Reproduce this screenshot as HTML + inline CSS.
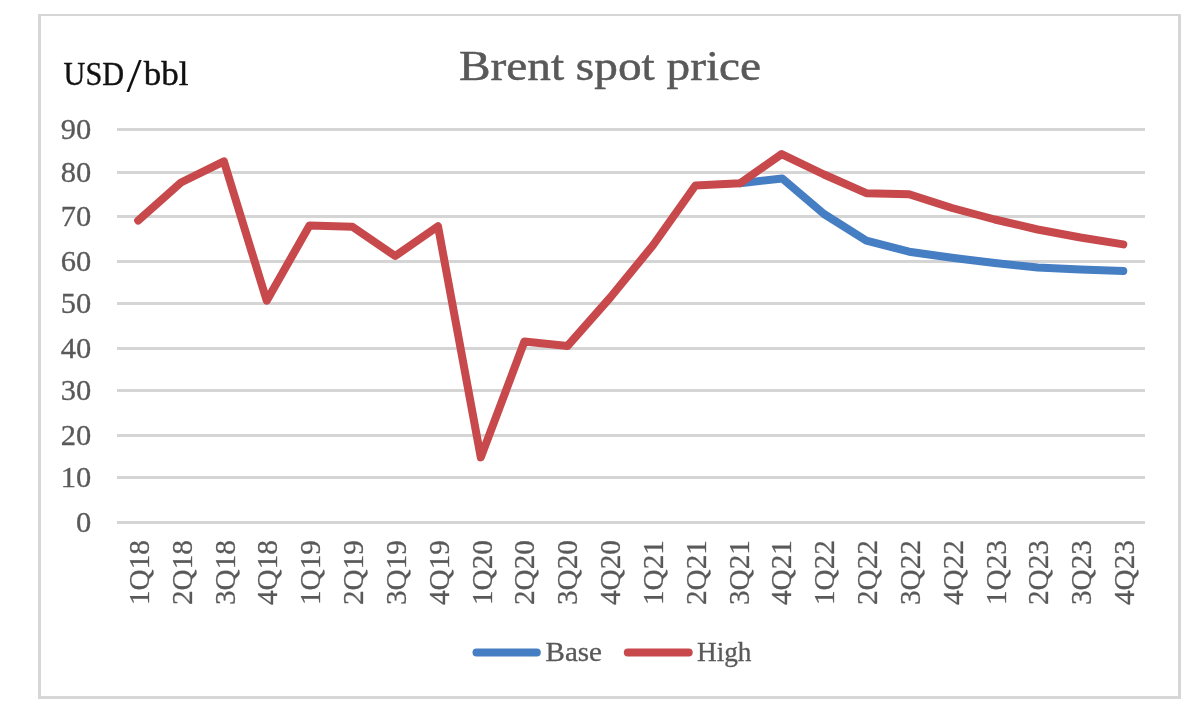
<!DOCTYPE html>
<html lang="en"><head><meta charset="utf-8"><title>Brent spot price</title>
<style>html,body{margin:0;padding:0;background:#fff;}body{width:1200px;height:720px;overflow:hidden;}svg{display:block;}text{font-family:"Liberation Serif",serif;}</style></head><body>
<svg width="1200" height="720" viewBox="0 0 1200 720">
<rect x="0" y="0" width="1200" height="720" fill="#ffffff"/>
<g fill="#d6d6d6" shape-rendering="crispEdges"><rect x="38" y="14" width="1143" height="2"/><rect x="38" y="696" width="1143" height="3"/><rect x="38" y="14" width="3" height="685"/><rect x="1178" y="14" width="3" height="685"/></g>
<g fill="#d5d5d5" shape-rendering="crispEdges">
<rect x="117" y="521" width="1028" height="3"/>
<rect x="117" y="476" width="1028" height="3"/>
<rect x="117" y="434" width="1028" height="3"/>
<rect x="117" y="389" width="1028" height="3"/>
<rect x="117" y="347" width="1028" height="3"/>
<rect x="117" y="302" width="1028" height="3"/>
<rect x="117" y="260" width="1028" height="3"/>
<rect x="117" y="215" width="1028" height="3"/>
<rect x="117" y="171" width="1028" height="3"/>
<rect x="117" y="128" width="1028" height="3"/>
</g>
<text transform="translate(91.3,531.90) scale(1.07,1)" font-size="28.5" fill="#595959" stroke="#595959" stroke-width="0.3" text-anchor="end">0</text>
<text transform="translate(91.3,486.90) scale(1.07,1)" font-size="28.5" fill="#595959" stroke="#595959" stroke-width="0.3" text-anchor="end">10</text>
<text transform="translate(91.3,444.90) scale(1.07,1)" font-size="28.5" fill="#595959" stroke="#595959" stroke-width="0.3" text-anchor="end">20</text>
<text transform="translate(91.3,399.90) scale(1.07,1)" font-size="28.5" fill="#595959" stroke="#595959" stroke-width="0.3" text-anchor="end">30</text>
<text transform="translate(91.3,357.90) scale(1.07,1)" font-size="28.5" fill="#595959" stroke="#595959" stroke-width="0.3" text-anchor="end">40</text>
<text transform="translate(91.3,312.90) scale(1.07,1)" font-size="28.5" fill="#595959" stroke="#595959" stroke-width="0.3" text-anchor="end">50</text>
<text transform="translate(91.3,270.90) scale(1.07,1)" font-size="28.5" fill="#595959" stroke="#595959" stroke-width="0.3" text-anchor="end">60</text>
<text transform="translate(91.3,225.90) scale(1.07,1)" font-size="28.5" fill="#595959" stroke="#595959" stroke-width="0.3" text-anchor="end">70</text>
<text transform="translate(91.3,181.90) scale(1.07,1)" font-size="28.5" fill="#595959" stroke="#595959" stroke-width="0.3" text-anchor="end">80</text>
<text transform="translate(91.3,138.90) scale(1.07,1)" font-size="28.5" fill="#595959" stroke="#595959" stroke-width="0.3" text-anchor="end">90</text>
<text transform="translate(148.91,605) rotate(-90)" font-size="29.2" fill="#595959" stroke="#595959" stroke-width="0.3">1Q18</text>
<text transform="translate(191.74,605) rotate(-90)" font-size="29.2" fill="#595959" stroke="#595959" stroke-width="0.3">2Q18</text>
<text transform="translate(234.57,605) rotate(-90)" font-size="29.2" fill="#595959" stroke="#595959" stroke-width="0.3">3Q18</text>
<text transform="translate(277.40,605) rotate(-90)" font-size="29.2" fill="#595959" stroke="#595959" stroke-width="0.3">4Q18</text>
<text transform="translate(320.23,605) rotate(-90)" font-size="29.2" fill="#595959" stroke="#595959" stroke-width="0.3">1Q19</text>
<text transform="translate(363.06,605) rotate(-90)" font-size="29.2" fill="#595959" stroke="#595959" stroke-width="0.3">2Q19</text>
<text transform="translate(405.89,605) rotate(-90)" font-size="29.2" fill="#595959" stroke="#595959" stroke-width="0.3">3Q19</text>
<text transform="translate(448.72,605) rotate(-90)" font-size="29.2" fill="#595959" stroke="#595959" stroke-width="0.3">4Q19</text>
<text transform="translate(491.55,605) rotate(-90)" font-size="29.2" fill="#595959" stroke="#595959" stroke-width="0.3">1Q20</text>
<text transform="translate(534.38,605) rotate(-90)" font-size="29.2" fill="#595959" stroke="#595959" stroke-width="0.3">2Q20</text>
<text transform="translate(577.21,605) rotate(-90)" font-size="29.2" fill="#595959" stroke="#595959" stroke-width="0.3">3Q20</text>
<text transform="translate(620.04,605) rotate(-90)" font-size="29.2" fill="#595959" stroke="#595959" stroke-width="0.3">4Q20</text>
<text transform="translate(662.86,605) rotate(-90)" font-size="29.2" fill="#595959" stroke="#595959" stroke-width="0.3">1Q21</text>
<text transform="translate(705.69,605) rotate(-90)" font-size="29.2" fill="#595959" stroke="#595959" stroke-width="0.3">2Q21</text>
<text transform="translate(748.52,605) rotate(-90)" font-size="29.2" fill="#595959" stroke="#595959" stroke-width="0.3">3Q21</text>
<text transform="translate(791.35,605) rotate(-90)" font-size="29.2" fill="#595959" stroke="#595959" stroke-width="0.3">4Q21</text>
<text transform="translate(834.18,605) rotate(-90)" font-size="29.2" fill="#595959" stroke="#595959" stroke-width="0.3">1Q22</text>
<text transform="translate(877.01,605) rotate(-90)" font-size="29.2" fill="#595959" stroke="#595959" stroke-width="0.3">2Q22</text>
<text transform="translate(919.84,605) rotate(-90)" font-size="29.2" fill="#595959" stroke="#595959" stroke-width="0.3">3Q22</text>
<text transform="translate(962.67,605) rotate(-90)" font-size="29.2" fill="#595959" stroke="#595959" stroke-width="0.3">4Q22</text>
<text transform="translate(1005.50,605) rotate(-90)" font-size="29.2" fill="#595959" stroke="#595959" stroke-width="0.3">1Q23</text>
<text transform="translate(1048.33,605) rotate(-90)" font-size="29.2" fill="#595959" stroke="#595959" stroke-width="0.3">2Q23</text>
<text transform="translate(1091.16,605) rotate(-90)" font-size="29.2" fill="#595959" stroke="#595959" stroke-width="0.3">3Q23</text>
<text transform="translate(1133.99,605) rotate(-90)" font-size="29.2" fill="#595959" stroke="#595959" stroke-width="0.3">4Q23</text>
<text x="459" y="79.6" font-size="42" fill="#595959" stroke="#595959" stroke-width="0.5" textLength="302" lengthAdjust="spacingAndGlyphs">Brent spot price</text>
<text font-size="33.8" fill="#111111" stroke="#111111" stroke-width="0.4"><tspan x="63.6" y="85" textLength="60.5" lengthAdjust="spacingAndGlyphs">USD</tspan><tspan x="126.4" y="91.6" font-size="48.4" stroke-width="0.05" textLength="15.2" lengthAdjust="spacingAndGlyphs">/</tspan><tspan x="143.8" y="85" textLength="44.8" lengthAdjust="spacingAndGlyphs">bbl</tspan></text>
<polyline fill="none" stroke="#467ec3" stroke-width="8" stroke-linejoin="round" stroke-linecap="round" points="740.1,183.2 782.3,178.5 824.0,214.0 866.3,240.7 909.1,251.7 952.0,257.8 994.8,263.0 1037.6,267.5 1080.5,269.5 1123.3,270.9"/>
<polyline fill="none" stroke="#c7494b" stroke-width="8" stroke-linejoin="round" stroke-linecap="round" points="138.2,220.5 181.0,182.5 223.9,161.3 266.7,300.7 309.5,225.5 352.4,226.8 395.2,256.0 438.0,226.3 480.8,457.4 524.4,341.5 567.5,346.0 610.3,297.5 653.2,245.0 695.4,185.5 740.1,183.2 781.6,154.1 824.0,174.5 866.3,193.2 909.1,194.2 952.0,208.0 994.8,219.5 1037.6,229.5 1080.5,237.5 1123.3,244.4"/>
<line x1="476.5" y1="652.5" x2="536.8" y2="652.5" stroke="#467ec3" stroke-width="8" stroke-linecap="round"/>
<text x="545.5" y="660.5" font-size="26.8" fill="#595959" stroke="#595959" stroke-width="0.3" textLength="56.5" lengthAdjust="spacingAndGlyphs">Base</text>
<line x1="627.8" y1="652.5" x2="688.7" y2="652.5" stroke="#c7494b" stroke-width="8" stroke-linecap="round"/>
<text x="697" y="660.5" font-size="26.8" fill="#595959" stroke="#595959" stroke-width="0.3" textLength="54.5" lengthAdjust="spacingAndGlyphs">High</text>
</svg></body></html>
